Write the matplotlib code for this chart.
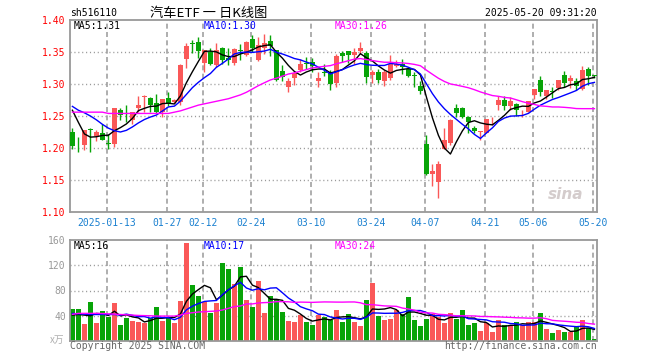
import matplotlib
matplotlib.use("Agg")
import matplotlib.pyplot as plt
import numpy as np
import pandas as pd

# ---- data ----
holidays = ["2025-01-28", "2025-01-29", "2025-01-30", "2025-01-31", "2025-02-03",
            "2025-02-04", "2025-04-04", "2025-05-01", "2025-05-02", "2025-05-05"]
dates = [d for d in pd.bdate_range("2025-01-03", "2025-05-20") if d.strftime("%Y-%m-%d") not in holidays]

tick_dates = ["2025-01-13", "2025-01-27", "2025-02-12", "2025-02-24", "2025-03-10",
              "2025-03-24", "2025-04-07", "2025-04-21", "2025-05-06", "2025-05-20"]
tick_labels = ["2025-01-13", "01-27", "02-12", "02-24", "03-10",
               "03-24", "04-07", "04-21", "05-06", "05-20"]

opens = [1.225, 1.205, 1.205, 1.229, 1.219, 1.223, 1.207, 1.206, 1.259, 1.255,
         1.243, 1.263, 1.279, 1.278, 1.270, 1.257, 1.278, 1.272, 1.272, 1.339,
         1.363, 1.365, 1.333, 1.350, 1.330, 1.357, 1.341, 1.333, 1.353, 1.345,
         1.370, 1.338, 1.357, 1.367, 1.353, 1.320, 1.295, 1.310, 1.322, 1.332,
         1.334, 1.305, 1.318, 1.317, 1.302, 1.349, 1.352, 1.345, 1.352, 1.348,
         1.314, 1.319, 1.305, 1.309, 1.328, 1.331, 1.323, 1.313, 1.297, 1.206,
         1.160, 1.147, 1.198, 1.208, 1.262, 1.263, 1.249, 1.231, 1.225, 1.224,
         1.243, 1.267, 1.275, 1.266, 1.269, 1.254, 1.257, 1.283, 1.306, 1.281,
         1.289, 1.293, 1.314, 1.304, 1.305, 1.292, 1.324, 1.313]
highs = [1.231, 1.217, 1.228, 1.232, 1.228, 1.238, 1.222, 1.263, 1.262, 1.267,
         1.256, 1.281, 1.283, 1.279, 1.284, 1.277, 1.288, 1.277, 1.332, 1.364,
         1.369, 1.374, 1.353, 1.356, 1.364, 1.358, 1.356, 1.356, 1.362, 1.367,
         1.377, 1.374, 1.378, 1.377, 1.353, 1.330, 1.309, 1.320, 1.339, 1.342,
         1.340, 1.319, 1.332, 1.322, 1.347, 1.352, 1.352, 1.357, 1.366, 1.352,
         1.322, 1.323, 1.322, 1.345, 1.338, 1.339, 1.326, 1.318, 1.304, 1.220,
         1.175, 1.179, 1.232, 1.245, 1.269, 1.264, 1.250, 1.234, 1.226, 1.245,
         1.248, 1.281, 1.281, 1.280, 1.271, 1.259, 1.274, 1.292, 1.312, 1.291,
         1.295, 1.307, 1.321, 1.314, 1.309, 1.328, 1.326, 1.314]
lows = [1.199, 1.194, 1.197, 1.193, 1.211, 1.212, 1.199, 1.202, 1.244, 1.241,
        1.238, 1.257, 1.256, 1.257, 1.255, 1.249, 1.265, 1.270, 1.267, 1.325,
        1.348, 1.340, 1.319, 1.330, 1.327, 1.332, 1.330, 1.330, 1.337, 1.343,
        1.350, 1.336, 1.347, 1.344, 1.305, 1.304, 1.288, 1.298, 1.318, 1.324,
        1.318, 1.295, 1.312, 1.290, 1.296, 1.335, 1.333, 1.332, 1.347, 1.302,
        1.302, 1.301, 1.297, 1.307, 1.326, 1.316, 1.311, 1.296, 1.285, 1.158,
        1.141, 1.122, 1.198, 1.205, 1.248, 1.247, 1.223, 1.223, 1.212, 1.223,
        1.236, 1.259, 1.259, 1.259, 1.250, 1.249, 1.256, 1.277, 1.281, 1.276,
        1.278, 1.291, 1.295, 1.293, 1.290, 1.291, 1.298, 1.309]
closes = [1.203, 1.204, 1.228, 1.228, 1.225, 1.213, 1.206, 1.263, 1.252, 1.254,
          1.256, 1.267, 1.281, 1.267, 1.256, 1.276, 1.270, 1.275, 1.330, 1.359,
          1.362, 1.351, 1.353, 1.332, 1.353, 1.338, 1.338, 1.354, 1.352, 1.366,
          1.357, 1.361, 1.364, 1.359, 1.307, 1.311, 1.304, 1.317, 1.331, 1.331,
          1.328, 1.310, 1.317, 1.300, 1.343, 1.343, 1.345, 1.350, 1.356, 1.311,
          1.318, 1.306, 1.318, 1.332, 1.332, 1.326, 1.312, 1.312, 1.289, 1.159,
          1.164, 1.175, 1.212, 1.243, 1.255, 1.249, 1.240, 1.226, 1.226, 1.245,
          1.244, 1.275, 1.265, 1.273, 1.259, 1.255, 1.273, 1.292, 1.288, 1.290,
          1.288, 1.306, 1.301, 1.309, 1.297, 1.322, 1.312, 1.312]
volumes = [50.7, 50.7, 26.7, 61.9, 28.3, 47.5, 37.9, 60.3, 25.1, 36.3,
           31.5, 29.9, 28.3, 36.3, 53.9, 31.5, 36.3, 28.3, 63.5, 154.7,
           89.1, 71.5, 61.9, 44.3, 60.3, 124.3, 114.7, 90.7, 117.9, 65.1,
           53.9, 95.5, 44.3, 71.5, 65.1, 45.9, 31.5, 29.9, 41.1, 29.9,
           25.1, 41.1, 37.9, 33.1, 49.1, 29.9, 42.7, 29.9, 23.5, 65.1,
           92.3, 39.5, 33.1, 34.7, 49.1, 42.7, 69.9, 33.1, 23.5, 34.7,
           42.7, 37.9, 28.3, 44.3, 34.7, 49.1, 25.1, 28.3, 15.5, 28.3,
           13.9, 33.1, 25.1, 23.5, 29.9, 25.1, 29.9, 29.9, 44.3, 18.7,
           12.3, 17.1, 13.9, 13.9, 21.9, 33.1, 20.3, 2.7]

# moving averages before a full window is available (history not shown)
ma5_head = [1.259, 1.240, 1.222, 1.217]
ma10_head = [1.265, 1.259, 1.255, 1.250, 1.244, 1.237, 1.231, 1.227, 1.225]
ma30_head = [1.256, 1.256, 1.256, 1.256, 1.256, 1.256, 1.254, 1.254, 1.254, 1.254,
             1.254, 1.254, 1.254, 1.254, 1.254, 1.254, 1.254, 1.256, 1.258, 1.261,
             1.264, 1.267, 1.269, 1.271, 1.273, 1.275, 1.277, 1.280, 1.283]
vma5_head = [41.0, 42.0, 41.0, 40.0]
vma10_head = [43.7, 43.0, 42.5, 42.0, 42.0, 42.0, 42.0, 42.0, 41.0]
vma30_head = [42.2, 43.8, 43.8, 43.8, 43.8, 43.5, 43.0, 42.5, 42.0, 41.5,
              41.0, 40.5, 40.2, 40.0, 39.5, 39.5, 39.5, 39.5, 41.1, 43.7,
              44.8, 45.9, 46.4, 47.0, 47.5, 49.1, 51.8, 54.5, 55.5]

RED = "#fa5858"
GREEN = "#08a408"
GRID = "#a8a8a8"
MONO = "DejaVu Sans Mono"
FS = 7.0
plt.rcParams["lines.scale_dashes"] = False


def moving_avg(values, n, head):
    ma = pd.Series(values).rolling(n).mean().to_numpy()
    ma[: n - 1] = head
    return ma


o, h, l, c = map(np.array, (opens, highs, lows, closes))
vol = np.array(volumes)
x = np.arange(len(c))
up = c >= o
colors = np.where(up, RED, GREEN)
date_str = [d.strftime("%Y-%m-%d") for d in dates]
tick_pos = [date_str.index(d) - 0.28 for d in tick_dates]

W, H = 660, 360
fig = plt.figure(figsize=(W / 100, H / 100), dpi=100)
ax = fig.add_axes([70 / W, 1 - 212 / H, 527 / W, 192 / H])
axv = fig.add_axes([70 / W, 1 - 341 / H, 527 / W, 101 / H])

for a in (ax, axv):
    a.set_xlim(-0.4, 87.43)
    for s in a.spines.values():
        s.set_color("#999999")
        s.set_linewidth(1.3)
    for p in tick_pos:
        a.axvline(p, color=GRID, lw=1.3, ls=(0, (3.6, 2.4)), zorder=0)
    a.tick_params(length=0)

# price panel
for y in [1.15, 1.20, 1.25, 1.30, 1.35]:
    ax.axhline(y, color="#999999", lw=1, ls=(0, (0.8, 2.0)), zorder=0)
ax.vlines(x, l, h, colors=colors, lw=1, zorder=2)
ax.bar(x, np.maximum(np.abs(c - o), 0.0014), bottom=np.minimum(o, c),
       width=0.83, color=colors, lw=0, zorder=3)
ax.plot(x, moving_avg(c, 5, ma5_head), color="black", lw=1, zorder=4)
ax.plot(x, moving_avg(c, 10, ma10_head), color="#0000ff", lw=1, zorder=4)
ax.plot(x, moving_avg(c, 30, ma30_head), color="#ff00ff", lw=1, zorder=4)
ax.set_ylim(1.10, 1.40)
ax.set_yticks([1.10, 1.15, 1.20, 1.25, 1.30, 1.35, 1.40])
ax.set_yticklabels([f"{v:.2f}" for v in ax.get_yticks()], color="#ff0000",
                   family=MONO, fontsize=FS)
ax.set_xticks(tick_pos)
ax.set_xticklabels(tick_labels, color="#1a80d0", family=MONO, fontsize=FS)
ax.tick_params(axis="x", pad=4.5)
ax.tick_params(axis="y", pad=3)
ax.text(0.975, 0.09, "sina", transform=ax.transAxes, ha="right", va="center",
        fontsize=11, fontweight="bold", style="italic", color="#d4cccc", zorder=1)

# volume panel
for y in [40, 80, 120]:
    axv.axhline(y, color="#999999", lw=1, ls=(0, (0.8, 2.0)), zorder=0)
axv.bar(x, vol, width=0.83, color=colors, lw=0, zorder=2)
axv.plot(x, moving_avg(vol, 5, vma5_head), color="black", lw=1, zorder=4)
axv.plot(x, moving_avg(vol, 10, vma10_head), color="#0000ff", lw=1, zorder=4)
axv.plot(x, moving_avg(vol, 30, vma30_head), color="#ff00ff", lw=1, zorder=4)
axv.set_ylim(0, 160)
axv.set_yticks([40, 80, 120, 160])
axv.set_yticklabels(["40", "80", "120", "160"], color="#999999", family=MONO, fontsize=FS)
axv.tick_params(axis="y", pad=3)
axv.set_xticks([])


def ftext(px, py, s, **kw):
    kw.setdefault("family", MONO)
    kw.setdefault("fontsize", FS)
    kw.setdefault("va", "center")
    fig.text(px / W, 1 - py / H, s, **kw)


ftext(70, 13, "sh516110", color="black")
ftext(209, 13, "汽车ETF 一 日K线图", ha="center", fontsize=9.5,
      family=["Noto Sans CJK SC", "DejaVu Sans"])
ftext(597, 13, "2025-05-20 09:31:20", ha="right", color="black")
ftext(74, 26, "MA5:1.31", color="black")
ftext(204, 26, "MA10:1.30", color="#0000ff")
ftext(335, 26, "MA30:1.26", color="#ff00ff")
ftext(74, 246, "MA5:16", color="black")
ftext(204, 246, "MA10:17", color="#0000ff")
ftext(335, 246, "MA30:24", color="#ff00ff")
ftext(64, 340, "x万", ha="right", color="#b0b0b0", fontsize=7,
      family=["Noto Sans CJK SC", "DejaVu Sans"])
ftext(70, 346, "Copyright 2025 SINA.COM", color="#666666")
ftext(597, 346, "http://finance.sina.com.cn", ha="right", color="#666666")

fig.savefig("out.png", dpi=100)
